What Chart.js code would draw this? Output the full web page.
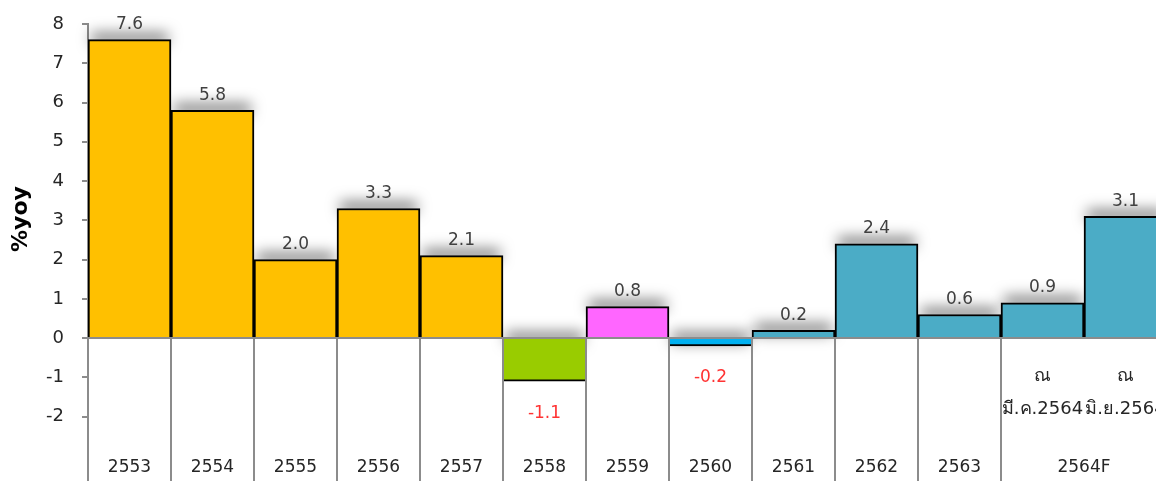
<!DOCTYPE html>
<html>
<head>
<meta charset="utf-8">
<script src="https://cdn.jsdelivr.net/npm/chart.js@4.4.1/dist/chart.umd.min.js"></script>
<style>
  body { margin: 0; overflow: hidden; background: #fff; }
</style>
</head>
<body>
<canvas id="mybargraph" width="1168" height="481"></canvas>
<script>
const years = ['2553', '2554', '2555', '2556', '2557', '2558', '2559', '2560', '2561', '2562', '2563', '2564F', '2564F']
const growth = [7.6, 5.8, 2.0, 3.3, 2.1, -1.1, 0.8, -0.2, 0.2, 2.4, 0.6, 0.9, 3.1]
const barColors = ['#FFC000', '#FFC000', '#FFC000', '#FFC000', '#FFC000', '#99CC00', '#FF66FF', '#00B0F0', '#4BACC6', '#4BACC6', '#4BACC6', '#4BACC6', '#4BACC6']
const forecastNotes = [['ณ', 'มี.ค.2564'], ['ณ', 'มิ.ย.2564']]
const yTicks = [-2, -1, 0, 1, 2, 3, 4, 5, 6, 7, 8]

const fontFamily = "Tahoma, 'DejaVu Sans', sans-serif"

// soft grey shadow above the top edge of each bar
const shadowPlugin = {
    id: 'barShadow',
    beforeDatasetsDraw(chart) {
        const ctx = chart.ctx
        chart.getDatasetMeta(0).data.forEach(function(bar){
            const top = Math.min(bar.y, bar.base)
            ctx.save()
            ctx.shadowColor = 'rgba(0,0,0,0.5)'
            ctx.shadowBlur = 14
            ctx.shadowOffsetX = 5000
            ctx.fillStyle = '#000'
            ctx.fillRect(bar.x - bar.width / 2 - 5000 + 3, top - 7, bar.width - 6, 11)
            ctx.restore()
        })
    }
}

// table-like lines, labels under zero, value labels, axis title
const tablePlugin = {
    id: 'table',
    afterDatasetsDraw(chart) {
        const ctx = chart.ctx
        const area = chart.chartArea
        const x = chart.scales.x
        const y = chart.scales.y
        const zeroY = y.getPixelForValue(0)
        const step = x.getPixelForValue(1) - x.getPixelForValue(0)

        ctx.save()
        ctx.strokeStyle = '#8c8c8c'
        ctx.lineWidth = 2
        for (let i = 1; i <= years.length; i++) {
            if (i == 12) continue
            const px = Math.round(x.getPixelForValue(i) - step / 2)
            ctx.beginPath()
            ctx.moveTo(px, zeroY)
            ctx.lineTo(px, area.bottom)
            ctx.stroke()
        }
        ctx.beginPath()
        ctx.moveTo(area.left, zeroY)
        ctx.lineTo(area.right, zeroY)
        ctx.stroke()

        ctx.textAlign = 'center'
        ctx.textBaseline = 'middle'
        ctx.font = '17px ' + fontFamily
        ctx.fillStyle = '#262626'
        for (let i = 0; i < 11; i++) {
            ctx.fillText(years[i], x.getPixelForValue(i), 468)
        }
        ctx.fillText(years[11], x.getPixelForValue(11.5), 468)
        ctx.font = '18px ' + fontFamily
        forecastNotes.forEach(function(note, j){
            ctx.fillText(note[0], x.getPixelForValue(11 + j), 376)
            ctx.fillText(note[1], x.getPixelForValue(11 + j), 409)
        })

        ctx.font = '17px ' + fontFamily
        chart.getDatasetMeta(0).data.forEach(function(bar, i){
            const v = growth[i]
            if (v >= 0) {
                ctx.fillStyle = '#404040'
                ctx.fillText(v.toFixed(1), bar.x, bar.y - 15)
            } else {
                ctx.fillStyle = '#FF3333'
                ctx.fillText(v.toFixed(1), bar.x, bar.y + 32)
            }
        })

        ctx.translate(21, 219)
        ctx.rotate(-Math.PI / 2)
        ctx.font = 'bold 22px ' + fontFamily
        ctx.fillStyle = '#000'
        ctx.fillText('%yoy', 0, 0)
        ctx.restore()
    }
}

function drawbargraph(){
    const canvasforbargraph = document.getElementById('mybargraph')
    new Chart(canvasforbargraph, {
        type: 'bar',
        data: {
            labels: years,
            datasets: [{
                data: growth,
                backgroundColor: barColors,
                borderColor: '#000',
                borderWidth: function(c){
                    return growth[c.dataIndex] >= 0 ? 2 : {top: 0, left: 0, right: 0, bottom: 2}
                },
                borderSkipped: 'start',
                categoryPercentage: 1,
                barPercentage: 1
            }]
        },
        options: {
            responsive: false,
            animation: false,
            layout: { padding: { top: 24, right: 1, bottom: 0, left: 0 } },
            plugins: {
                legend: { display: false },
                tooltip: { enabled: false }
            },
            scales: {
                x: { display: false },
                y: {
                    min: -3.64,
                    max: 8,
                    afterBuildTicks: function(scale){
                        scale.ticks = yTicks.map(function(v){ return {value: v} })
                    },
                    afterFit: function(scale){
                        scale.width = 88
                        scale.paddingTop = 0
                        scale.paddingBottom = 0
                    },
                    border: { display: true, color: '#8c8c8c', width: 2 },
                    grid: { drawOnChartArea: false, drawTicks: true, tickLength: 6, color: '#8c8c8c', lineWidth: 2 },
                    ticks: {
                        color: '#262626',
                        padding: 18,
                        font: { size: 18, family: fontFamily }
                    }
                }
            }
        },
        plugins: [shadowPlugin, tablePlugin]
    })
}

drawbargraph()
</script>
</body>
</html>
